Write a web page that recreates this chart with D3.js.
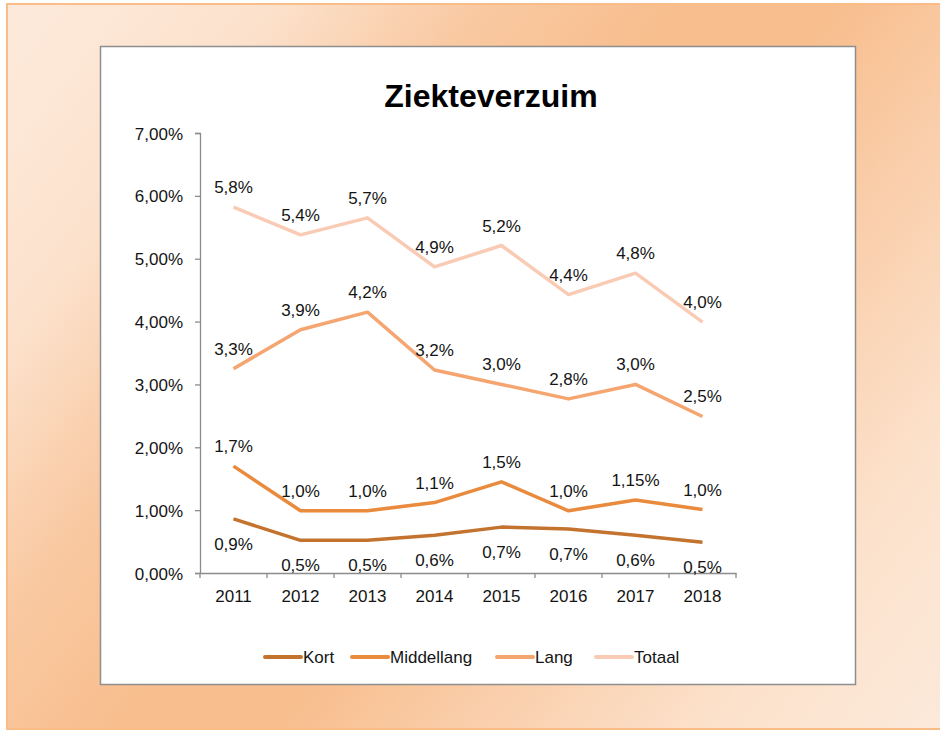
<!DOCTYPE html>
<html>
<head>
<meta charset="utf-8">
<script src="https://cdn.jsdelivr.net/npm/d3@7"></script>
<style>
  body { margin: 0; background: #fff; }
  svg { display: block; }
  text { font-family: "Liberation Sans", Arial, sans-serif; fill: #141414; }
</style>
</head>
<body>
<div id="chart"></div>
<script>
// data
var years = ["2011", "2012", "2013", "2014", "2015", "2016", "2017", "2018"];
var kort       = [0.86, 0.52, 0.52, 0.60, 0.73, 0.70, 0.60, 0.49];
var middellang = [1.70, 0.99, 0.99, 1.12, 1.45, 0.99, 1.16, 1.01];
var lang       = [3.25, 3.87, 4.15, 3.23, 3.00, 2.77, 3.00, 2.49];
var totaal     = [5.82, 5.38, 5.65, 4.87, 5.21, 4.43, 4.77, 3.99];
var kortLabels       = ["0,9%", "0,5%", "0,5%", "0,6%", "0,7%", "0,7%", "0,6%", "0,5%"];
var middellangLabels = ["1,7%", "1,0%", "1,0%", "1,1%", "1,5%", "1,0%", "1,15%", "1,0%"];
var langLabels       = ["3,3%", "3,9%", "4,2%", "3,2%", "3,0%", "2,8%", "3,0%", "2,5%"];
var totaalLabels     = ["5,8%", "5,4%", "5,7%", "4,9%", "5,2%", "4,4%", "4,8%", "4,0%"];
var yTicks = [0, 1, 2, 3, 4, 5, 6, 7];

var series = [
  { name: "Kort", values: kort, labels: kortLabels, color: "#c4732f", below: true },
  { name: "Middellang", values: middellang, labels: middellangLabels, color: "#e98a3c", below: false },
  { name: "Lang", values: lang, labels: langLabels, color: "#f5a570", below: false },
  { name: "Totaal", values: totaal, labels: totaalLabels, color: "#f9cbb4", below: false }
];

var W = 940, H = 731;

var svg = d3.select("#chart").append("svg")
    .attr("width", W)
    .attr("height", H);

// background slide
var defs = svg.append("defs");
var grad = defs.append("linearGradient")
    .attr("id", "bg")
    .attr("gradientUnits", "userSpaceOnUse")
    .attr("x1", 0).attr("y1", 0)
    .attr("x2", W).attr("y2", H);
[[0, "#fdeadc"], [0.18, "#fce2cd"], [0.32, "#f9c9a2"], [0.45, "#f8be8e"],
 [0.56, "#f8be8e"], [0.7, "#fad0ae"], [0.85, "#fce2cc"], [1, "#fce9da"]]
  .forEach(function(s){
    grad.append("stop").attr("offset", s[0]).attr("stop-color", s[1]);
  });

svg.append("rect")
    .attr("x", 7).attr("y", 4)
    .attr("width", 950).attr("height", 725)
    .attr("fill", "url(#bg)")
    .attr("stroke", "#fbbd88")
    .attr("stroke-width", 2);

// chart panel
svg.append("rect")
    .attr("x", 100.5).attr("y", 46.5)
    .attr("width", 755).attr("height", 638)
    .attr("fill", "#fff")
    .attr("stroke", "#8e8e8e")
    .attr("stroke-width", 1.5);

svg.append("text")
    .attr("x", 491).attr("y", 107)
    .attr("text-anchor", "middle")
    .style("font-size", "32px")
    .style("font-weight", "bold")
    .style("fill", "#000")
    .text("Ziekteverzuim");

var x = d3.scaleBand().domain(years).range([200, 736]);
var y = d3.scaleLinear().domain([0, 7]).range([573, 133]);

// y axis
var yAxis = svg.append("g")
    .attr("transform", "translate(200,0)")
    .call(d3.axisLeft(y).tickValues(yTicks).tickSize(5).tickPadding(12)
      .tickFormat(function(d){ return d3.format(".2f")(d).replace(".", ",") + "%"; }));

// x axis
var xAxis = svg.append("g")
    .attr("transform", "translate(0,573)")
    .call(d3.axisBottom(x).tickSize(0).tickPadding(17));

var xBoundaries = years.map(function(d){ return x(d); }).concat([x.range()[1]]);
svg.append("g").selectAll("line")
    .data(xBoundaries)
    .enter().append("line")
    .attr("x1", function(d){ return d; })
    .attr("x2", function(d){ return d; })
    .attr("y1", 573).attr("y2", 578)
    .attr("stroke", "#8c8c8c")
    .attr("stroke-width", 1.3);

[yAxis, xAxis].forEach(function(ax){
  ax.selectAll(".domain").attr("stroke", "#8c8c8c").attr("stroke-width", 1.3);
  ax.selectAll(".tick line").attr("stroke", "#8c8c8c").attr("stroke-width", 1.3);
  ax.selectAll("text")
    .style("font-size", "17px")
    .style("font-family", "'Liberation Sans', Arial, sans-serif")
    .style("fill", "#141414");
});
yAxis.selectAll("text").attr("dy", "0.36em");

var line = d3.line()
    .x(function(d, i){ return x(years[i]) + x.bandwidth() / 2; })
    .y(function(d){ return y(d); });

// lines, drawn back to front
series.slice().reverse().forEach(function(s){
  svg.append("path")
      .datum(s.values)
      .attr("d", line)
      .attr("fill", "none")
      .attr("stroke", s.color)
      .attr("stroke-width", 3.5)
      .attr("stroke-linejoin", "round");
});

// data labels
series.forEach(function(s){
  svg.append("g").selectAll("text")
      .data(s.values)
      .enter().append("text")
      .attr("x", function(d, i){ return x(years[i]) + x.bandwidth() / 2; })
      .attr("y", function(d){ return s.below ? y(d) + 31 : y(d) - 14; })
      .attr("text-anchor", "middle")
      .style("font-size", "17px")
      .text(function(d, i){ return s.labels[i]; });
});

// legend
var legendX = [265, 352, 497, 596];
var legend = svg.append("g").selectAll("g")
    .data(series)
    .enter().append("g")
    .attr("transform", function(d, i){ return "translate(" + legendX[i] + ",657)"; });

legend.append("line")
    .attr("x1", 0).attr("x2", 36)
    .attr("stroke", function(d){ return d.color; })
    .attr("stroke-width", 4)
    .attr("stroke-linecap", "round");

legend.append("text")
    .attr("x", 38).attr("y", 6)
    .style("font-size", "17px")
    .text(function(d){ return d.name; });
</script>
</body>
</html>
